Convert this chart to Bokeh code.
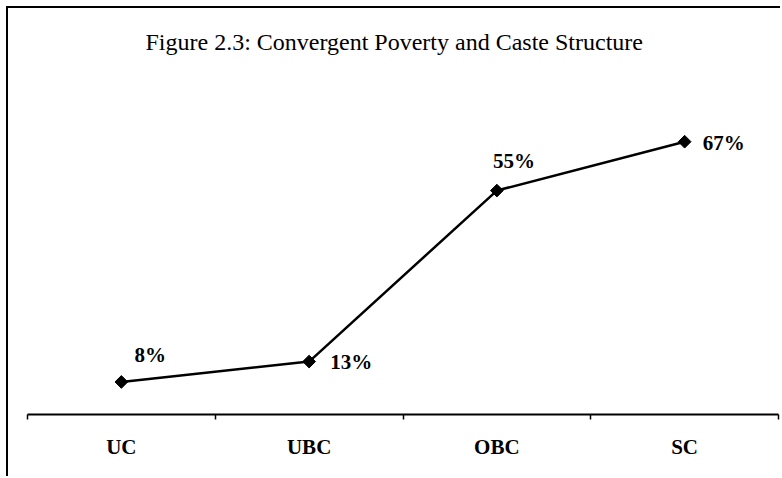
import math
from bokeh.plotting import figure
from bokeh.models import ColumnDataSource, FixedTicker, Range1d
from bokeh.core.properties import value
from bokeh.embed import file_html
from bokeh.resources import INLINE

# data
categories = ["UC", "UBC", "OBC", "SC"]
poverty_pct = [8, 13, 55, 67]
value_labels = ["8%", "13%", "55%", "67%"]

# label placement (screen px, relative to each point)
label_dx = [13, 21, -4, 18]
label_dy = [-27, 0, -30, 1]

xs = [i + 0.5 for i in range(len(categories))]
src = ColumnDataSource(dict(x=xs, y=poverty_pct, lab=value_labels,
                            dx=label_dx, dy=label_dy))

p = figure(width=774, height=470, output_backend="svg", toolbar_location=None,
           x_range=Range1d(0, len(categories)), y_range=Range1d(0, 84),
           y_axis_location=None,
           min_border_left=19, min_border_right=4, min_border_top=63,
           min_border_bottom=64,
           title="Figure 2.3: Convergent Poverty and Caste Structure",
           styles={"margin-left": "6px", "margin-top": "6px",
                   "border-top": "2px solid black",
                   "border-left": "2px solid black"})

p.title.align = "left"
p.title.offset = 118
p.title.text_font = "Liberation Serif"
p.title.text_font_size = "24px"
p.title.text_font_style = "normal"
p.title.text_color = "black"
p.title.standoff = 36

p.outline_line_color = None
p.xgrid.visible = False
p.ygrid.visible = False
p.background_fill_color = "white"
p.border_fill_color = "white"

ax = p.xaxis[0]
ax.ticker = FixedTicker(ticks=xs, minor_ticks=list(range(len(categories) + 1)))
ax.major_label_overrides = {x: c for x, c in zip(xs, categories)}
ax.major_tick_out = 0
ax.major_tick_in = 0
ax.minor_tick_out = 5
ax.minor_tick_in = 0
ax.minor_tick_line_color = "black"
ax.minor_tick_line_width = 1.5
ax.axis_line_color = "black"
ax.axis_line_width = 2
ax.major_label_standoff = 15
ax.major_label_text_font = "Liberation Serif"
ax.major_label_text_font_style = "bold"
ax.major_label_text_font_size = "21px"
ax.major_label_text_color = "black"

p.line("x", "y", source=src, line_color="black", line_width=2.5)
p.scatter("x", "y", source=src, marker="square", angle=math.pi / 4, size=9,
          fill_color="black", line_color="black", line_width=1)
p.text("x", "y", text="lab", source=src, x_offset="dx", y_offset="dy",
       text_font=value("Liberation Serif"), text_font_style="bold",
       text_font_size="21px", text_align="left", text_baseline="middle",
       text_color="black")

open("out.html", "w").write(file_html(p, INLINE))
